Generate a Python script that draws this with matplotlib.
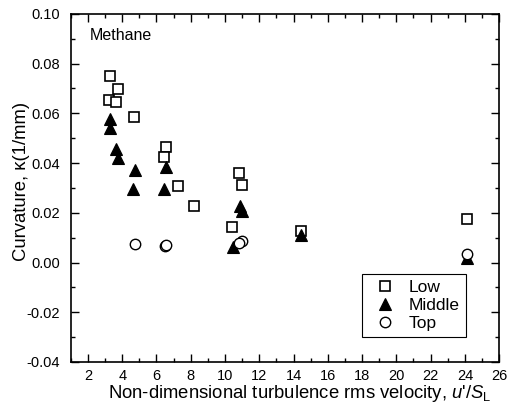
import matplotlib
matplotlib.use("Agg")
import matplotlib.pyplot as plt

plt.rcParams['font.family'] = ['Liberation Sans', 'DejaVu Sans']
plt.rcParams['mathtext.fontset'] = 'custom'
plt.rcParams['mathtext.rm'] = 'Liberation Sans'
plt.rcParams['mathtext.it'] = 'Liberation Sans:italic'

low_x = [3.31, 3.73, 3.25, 3.66, 4.67, 6.56, 6.43, 7.24, 8.17, 10.80, 11.00, 10.38, 14.41, 24.14]
low_y = [0.0752, 0.0697, 0.0653, 0.0646, 0.0586, 0.0464, 0.0426, 0.0308, 0.0226, 0.0359, 0.0312, 0.0141, 0.0128, 0.0174]

mid_x = [3.31, 3.27, 3.66, 3.73, 4.73, 6.56, 4.63, 6.44, 10.86, 11.02, 10.46, 14.41, 24.14]
mid_y = [0.0576, 0.0540, 0.0456, 0.0420, 0.0373, 0.0386, 0.0294, 0.0297, 0.0228, 0.0208, 0.0064, 0.0111, 0.0017]

top_x = [4.73, 6.48, 6.58, 11.00, 10.84, 24.14]
top_y = [0.0075, 0.0068, 0.0070, 0.0086, 0.0078, 0.0036]

series_labels = ['Low', 'Middle', 'Top']

fig = plt.figure(figsize=(5.13, 4.09), dpi=100)
ax = fig.add_axes([0.138, 0.115, 0.835, 0.851])

ax.plot(low_x, low_y, linestyle='none', marker='s', markersize=6.5,
        markerfacecolor='white', markeredgecolor='black', markeredgewidth=1.2,
        label=series_labels[0])
ax.plot(mid_x, mid_y, linestyle='none', marker='^', markersize=8.5,
        markerfacecolor='black', markeredgecolor='black', markeredgewidth=0.8,
        label=series_labels[1])
ax.plot(top_x, top_y, linestyle='none', marker='o', markersize=7.5,
        markerfacecolor='white', markeredgecolor='black', markeredgewidth=1.0,
        label=series_labels[2])

ax.set_xlim(1, 26)
ax.set_ylim(-0.04, 0.10)
ax.set_xticks(range(2, 27, 2))
ax.set_xticks(range(1, 27, 2), minor=True)
ax.set_yticks([-0.04, -0.02, 0.00, 0.02, 0.04, 0.06, 0.08, 0.10])
ax.set_yticks([-0.03, -0.01, 0.01, 0.03, 0.05, 0.07, 0.09], minor=True)
ax.set_yticklabels(['-0.04', '-0.02', '0.00', '0.02', '0.04', '0.06', '0.08', '0.10'])

ax.tick_params(which='both', direction='in', top=True, right=True, width=1.0)
ax.tick_params(which='major', length=6, labelsize=10.5)
ax.tick_params(axis='y', which='major', pad=8)
ax.tick_params(axis='x', which='major', pad=5)
ax.tick_params(which='minor', length=3)
for s in ax.spines.values():
    s.set_linewidth(1.2)

ax.set_xlabel("Non-dimensional turbulence rms velocity, $u$'/$S_\\mathrm{L}$", fontsize=13.3, labelpad=0)
ax.set_ylabel("Curvature, κ(1/mm)", fontsize=13.3, labelpad=-3)
ax.xaxis.label.set_x(0.535)
ax.yaxis.label.set_y(0.52)

ax.text(0.044, 0.937, 'Methane', transform=ax.transAxes, fontsize=11.5, va='center', ha='left')

leg = ax.legend(loc='lower right', bbox_to_anchor=(0.923, 0.072), fancybox=False,
                edgecolor='black', framealpha=1, fontsize=12.5, handletextpad=0.45,
                borderpad=0.35, labelspacing=0.15, handlelength=1.9, borderaxespad=0)
leg.get_frame().set_linewidth(0.8)

fig.savefig('out.png', dpi=100)
